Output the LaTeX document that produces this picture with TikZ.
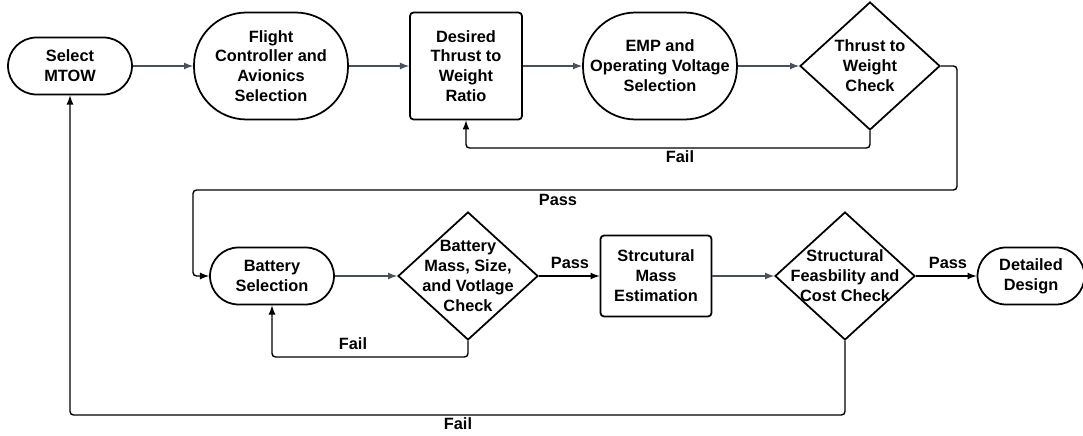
\documentclass[tikz,border=0pt]{standalone}
\usepackage{fontspec}
\setmainfont{Liberation Sans}
\usetikzlibrary{shapes.geometric}
\definecolor{flowgray}{RGB}{72,80,94}

\begin{document}
\begin{tikzpicture}[x = 0.02cm, y = 0.02cm, >=latex,
  every node/.style = {font = \fontsize{9.3}{11.3}\selectfont\bfseries, align = center},
  term/.style = {draw, line width = 1pt, minimum width = 2.48cm, minimum height = 1.14cm, rounded corners = 0.57cm},
  oval/.style = {draw, line width = 1pt, minimum width = 3.08cm, minimum height = 2.14cm, rounded corners = 1.05cm},
  proc/.style = {draw, line width = 1pt, rounded corners = 2pt},
  check/.style = {diamond, draw, line width = 1pt, minimum width = 2.8cm, minimum height = 2.56cm, inner sep = 0pt},
  flow/.style = {->, flowgray, line width = 0.8pt},
  loop/.style = {->, black, line width = 0.8pt, rounded corners = 2pt}]
\useasboundingbox (0,0) rectangle (1083,436);

% top row
\node[term] (mtow) at (70,370) {Select\\MTOW};
\node[oval] (fc) at (271,370) {Flight\\Controller and\\Avionics\\Selection};
\node[proc, minimum width = 2.24cm, minimum height = 2.14cm] (twr) at (466,370) {Desired\\Thrust to\\Weight\\Ratio};
\node[oval] (emp) at (660,370) {EMP and\\Operating Voltage\\Selection};
\node[check, label = {center:Thrust to\\Weight\\Check}] (twcheck) at (870,370) {};

% bottom row
\node[term] (bsel) at (272,160) {Battery\\Selection};
\node[check, label = {center:Battery\\Mass, Size,\\and Votlage\\Check}] (bcheck) at (468,160) {};
\node[proc, minimum width = 2.22cm, minimum height = 1.62cm] (smass) at (656,160) {Strcutural\\Mass\\Estimation};
\node[check, label = {center:Structural\\Feasbility and\\Cost Check}] (scheck) at (845,160) {};
\node[term, minimum width = 2.14cm] (design) at (1031,160) {Detailed\\Design};

% corners of the return lines
\coordinate (passturn) at (957,246);
\coordinate (passdrop) at (193,246);
\coordinate (twfail) at (870,288);
\coordinate (bfail) at (468,79);
\coordinate (sfail) at (845,21);

\draw[flow] (mtow) -- (fc);
\draw[flow] (fc) -- (twr);
\draw[flow] (twr) -- (emp);
\draw[flow] (emp) -- (twcheck);
\draw[flow] (bsel) -- (bcheck);
\draw[flow] (smass) -- (scheck);

\draw[loop] (twcheck.east) -| (passturn) -- (passdrop) |- (bsel.west);
\draw[loop] (twcheck.south) -- (twfail) -| (twr.south);
\draw[loop] (bcheck) -- (smass);
\draw[loop] (scheck) -- (design);
\draw[loop] (bcheck.south) -- (bfail) -| (bsel.south);
\draw[loop] (scheck.south) -- (sfail) -| (mtow.south);

\node (passa) at (558,236) {Pass};
\node (faila) at (680,279) {Fail};
\node (passb) at (570,173) {Pass};
\node (passc) at (948,173) {Pass};
\node (failb) at (353,92) {Fail};
\node (failc) at (458,12) {Fail};
\end{tikzpicture}
\end{document}
